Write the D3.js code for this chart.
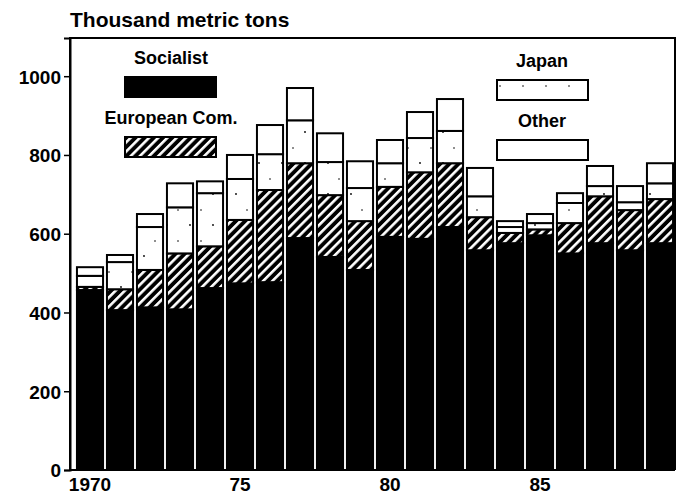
<!DOCTYPE html>
<html>
<head>
<meta charset="utf-8">
<script src="https://cdn.jsdelivr.net/npm/d3@7"></script>
<style>
  body { margin: 0; background: #fff; }
  svg { display: block; }
  text { font-family: "Liberation Sans", Arial, sans-serif; font-weight: bold; fill: #000; }
</style>
</head>
<body>
<svg id="chart" width="676" height="496"></svg>
<script>
// Thousand metric tons, 1970-1989, stacked by source
const YEARS = d3.range(1970, 1990);
const SOCIALIST = [457, 406, 413, 408, 462, 474, 477, 589, 541, 508, 592, 587, 617, 558, 576, 596, 550, 576, 558, 576];
const EURO_COM  = [8, 53, 95, 142, 106, 161, 234, 190, 157, 124, 127, 169, 162, 84, 26, 15, 77, 119, 102, 112];
const JAPAN     = [28, 69, 109, 117, 135, 104, 91, 109, 84, 84, 60, 87, 82, 53, 15, 16, 51, 26, 20, 40];
const OTHER     = [22, 18, 33, 61, 30, 61, 74, 82, 73, 68, 59, 66, 81, 72, 15, 23, 25, 51, 41, 51];
const Y_TICKS = [0, 200, 400, 600, 800, 1000];
const X_LABELS = {1970: "1970", 1975: "75", 1980: "80", 1985: "85"};
const KEYS = ["socialist", "ec", "japan", "other"];
const LEGEND = [
  {key: "socialist", label: "Socialist"},
  {key: "ec", label: "European Com."},
  {key: "japan", label: "Japan"},
  {key: "other", label: "Other"}
];

const rows = YEARS.map((yr, i) => ({
  year: yr, socialist: SOCIALIST[i], ec: EURO_COM[i], japan: JAPAN[i], other: OTHER[i]
}));

const svg = d3.select("#chart");
const M = {left: 70, right: 675, top: 38, bottom: 470};

// patterns
const defs = svg.append("defs");
const hatch = defs.append("pattern").attr("id", "hatch")
  .attr("patternUnits", "userSpaceOnUse").attr("width", 6.5).attr("height", 6.5)
  .attr("patternTransform", "rotate(45)");
hatch.append("rect").attr("width", 6.5).attr("height", 6.5).attr("fill", "#000");
hatch.append("rect").attr("x", 0).attr("y", 0).attr("width", 2.6).attr("height", 6.5).attr("fill", "#fff");

// sparse specks for Japan
const dots = defs.append("pattern").attr("id", "dots")
  .attr("patternUnits", "userSpaceOnUse").attr("width", 23).attr("height", 31);
dots.append("rect").attr("width", 23).attr("height", 31).attr("fill", "#fff");
dots.append("circle").attr("cx", 6).attr("cy", 8).attr("r", 0.9).attr("fill", "#000");
dots.append("circle").attr("cx", 17).attr("cy", 24).attr("r", 0.8).attr("fill", "#000");

const FILL = {socialist: "#000", ec: "url(#hatch)", japan: "url(#dots)", other: "#fff"};

const x = d3.scaleBand().domain(YEARS).range([75, M.right]).paddingInner(0.13).paddingOuter(0.065);
const y = d3.scaleLinear().domain([0, 1097]).range([M.bottom, M.top]);

const series = d3.stack().keys(KEYS)(rows);

const g = svg.append("g");
g.selectAll("g.series").data(series).join("g").attr("class", "series")
  .selectAll("rect").data(s => s.map(d => ({d, key: s.key}))).join("rect")
    .attr("x", p => x(p.d.data.year))
    .attr("width", x.bandwidth())
    .attr("y", p => y(p.d[1]))
    .attr("height", p => Math.max(0, y(p.d[0]) - y(p.d[1])))
    .attr("fill", p => FILL[p.key])
    .attr("stroke", "#000").attr("stroke-width", 2);

// frame
svg.append("path")
  .attr("d", `M${M.left},${M.bottom}V${M.top}H${M.right}V${M.bottom}`)
  .attr("fill", "none").attr("stroke", "#000").attr("stroke-width", 2);

// y axis
const yAxis = svg.append("g").attr("transform", `translate(${M.left},0)`)
  .call(d3.axisLeft(y).tickValues(Y_TICKS).tickSize(6).tickPadding(3).tickFormat(d3.format("d")));
yAxis.select(".domain").attr("stroke-width", 2);
yAxis.selectAll("line").attr("stroke-width", 1.5);
yAxis.selectAll("text").style("font-size", "19px").attr("font-family", null).attr("dy", "0.36em");

// x axis
const xAxis = svg.append("g").attr("transform", `translate(0,${M.bottom})`)
  .call(d3.axisBottom(x).tickValues(Object.keys(X_LABELS).map(Number))
    .tickSize(0).tickPadding(8).tickFormat(d => X_LABELS[d]));
xAxis.select(".domain").attr("d", `M${M.left},0H${M.right}`).attr("stroke-width", 2);
xAxis.selectAll("text").style("font-size", "19px").attr("font-family", null);

// title
svg.append("text").attr("x", 70).attr("y", 27).style("font-size", "21px").text("Thousand metric tons");

// legend
const legPos = {
  socialist: {tx: 171, ty: 64, bx: 125, by: 77},
  ec: {tx: 171, ty: 124, bx: 125, by: 137},
  japan: {tx: 542, ty: 67, bx: 497, by: 80},
  other: {tx: 542, ty: 127, bx: 497, by: 140}
};
const leg = svg.append("g").selectAll("g").data(LEGEND).join("g");
leg.append("text")
  .attr("x", d => legPos[d.key].tx).attr("y", d => legPos[d.key].ty)
  .attr("text-anchor", "middle").style("font-size", "18px").text(d => d.label);
leg.append("rect")
  .attr("x", d => legPos[d.key].bx).attr("y", d => legPos[d.key].by)
  .attr("width", 91).attr("height", 20)
  .attr("fill", d => FILL[d.key]).attr("stroke", "#000").attr("stroke-width", 2);
</script>
</body>
</html>
